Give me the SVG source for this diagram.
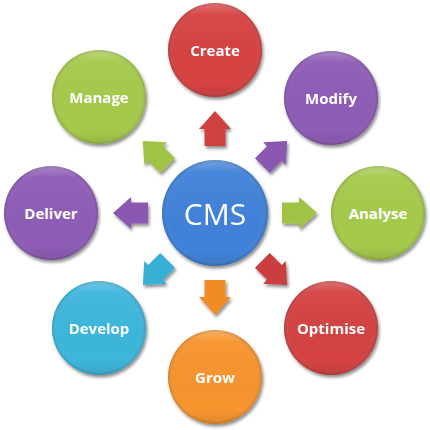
<svg xmlns="http://www.w3.org/2000/svg" xmlns:xlink="http://www.w3.org/1999/xlink" width="430" height="430" viewBox="0 0 430 430">
<defs>
<style>
.lbl{font-family:"Open Sans","Noto Sans","Liberation Sans",sans-serif;font-size:15px;font-weight:bold;fill:#fff;text-anchor:middle;dominant-baseline:central}
.big{font-family:"Open Sans","Noto Sans","Liberation Sans",sans-serif;font-size:30px;fill:#fff;text-anchor:middle;dominant-baseline:central}
.rim{fill:url(#rim)}
</style>
<filter id="sh" x="-20%" y="-20%" width="150%" height="150%">
<feDropShadow dx="1.5" dy="2.5" stdDeviation="1.8" flood-color="#000" flood-opacity="0.45"/>
</filter>
<radialGradient id="rim" cx="50%" cy="50%" r="50%">
<stop offset="0.88" stop-color="#fff" stop-opacity="0"/>
<stop offset="1" stop-color="#000" stop-opacity="0.14"/>
</radialGradient>
<linearGradient id="gl" x1="0" y1="0" x2="0" y2="1">
<stop offset="0" stop-color="#fff" stop-opacity="0.25"/>
<stop offset="0.12" stop-color="#fff" stop-opacity="0.04"/>
<stop offset="0.85" stop-color="#000" stop-opacity="0"/>
<stop offset="1" stop-color="#000" stop-opacity="0.1"/>
</linearGradient>
<path id="arr" d="M67,-10.5 L84,-10.5 L84,-16 L102,0 L84,16 L84,10.5 L67,10.5 Z"/>
</defs>

<g id="connectors" filter="url(#sh)">
<g transform="translate(215,213)">
<use xlink:href="#arr" href="#arr" transform="rotate(-90)" fill="#d03f41"/>
<use xlink:href="#arr" href="#arr" transform="rotate(-45)" fill="#8b58b1"/>
<use xlink:href="#arr" href="#arr" transform="rotate(0)" fill="#9fc445"/>
<use xlink:href="#arr" href="#arr" transform="rotate(45)" fill="#cc3d3f"/>
<use xlink:href="#arr" href="#arr" transform="rotate(90)" fill="#f28b27"/>
<use xlink:href="#arr" href="#arr" transform="rotate(135)" fill="#37b0d6"/>
<use xlink:href="#arr" href="#arr" transform="rotate(180)" fill="#8b58b1"/>
<use xlink:href="#arr" href="#arr" transform="rotate(-135)" fill="#9fc445"/>
</g>
</g>

<g id="cms">
<circle cx="215" cy="213" r="53" fill="#3f82d9" filter="url(#sh)"/>
<circle cx="215" cy="213" r="53" fill="url(#gl)"/>
<circle cx="215" cy="213" r="53" class="rim"/>
<text x="215" y="213" class="big">CMS</text>
</g>

<g id="create">
<circle cx="215" cy="50" r="47" fill="#d64343" filter="url(#sh)"/>
<circle cx="215" cy="50" r="47" fill="url(#gl)"/>
<circle cx="215" cy="50" r="47" class="rim"/>
<text x="215" y="50" class="lbl">Create</text>
</g>

<g id="modify">
<circle cx="331" cy="98" r="47" fill="#8e5bb6" filter="url(#sh)"/>
<circle cx="331" cy="98" r="47" fill="url(#gl)"/>
<circle cx="331" cy="98" r="47" class="rim"/>
<text x="331" y="98" class="lbl">Modify</text>
</g>

<g id="analyse">
<circle cx="378" cy="213" r="47" fill="#a5ca4b" filter="url(#sh)"/>
<circle cx="378" cy="213" r="47" fill="url(#gl)"/>
<circle cx="378" cy="213" r="47" class="rim"/>
<text x="378" y="213" class="lbl">Analyse</text>
</g>

<g id="optimise">
<circle cx="331" cy="328" r="47" fill="#d44242" filter="url(#sh)"/>
<circle cx="331" cy="328" r="47" fill="url(#gl)"/>
<circle cx="331" cy="328" r="47" class="rim"/>
<text x="331" y="328" class="lbl">Optimise</text>
</g>

<g id="grow">
<circle cx="215" cy="377" r="47" fill="#f7942d" filter="url(#sh)"/>
<circle cx="215" cy="377" r="47" fill="url(#gl)"/>
<circle cx="215" cy="377" r="47" class="rim"/>
<text x="215" y="377" class="lbl">Grow</text>
</g>

<g id="develop">
<circle cx="99" cy="328" r="47" fill="#3db6dc" filter="url(#sh)"/>
<circle cx="99" cy="328" r="47" fill="url(#gl)"/>
<circle cx="99" cy="328" r="47" class="rim"/>
<text x="99" y="328" class="lbl">Develop</text>
</g>

<g id="deliver">
<circle cx="51" cy="213" r="47" fill="#8e5bb6" filter="url(#sh)"/>
<circle cx="51" cy="213" r="47" fill="url(#gl)"/>
<circle cx="51" cy="213" r="47" class="rim"/>
<text x="51" y="213" class="lbl">Deliver</text>
</g>

<g id="manage">
<circle cx="99" cy="97" r="47" fill="#a5ca4b" filter="url(#sh)"/>
<circle cx="99" cy="97" r="47" fill="url(#gl)"/>
<circle cx="99" cy="97" r="47" class="rim"/>
<text x="99" y="97" class="lbl">Manage</text>
</g>
</svg>
